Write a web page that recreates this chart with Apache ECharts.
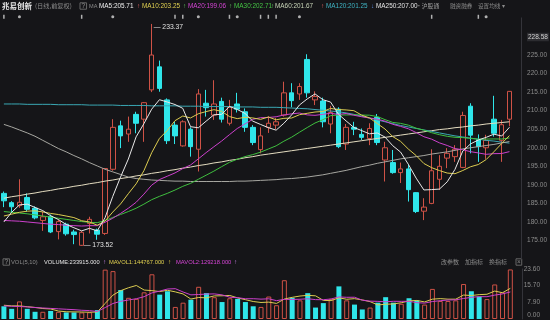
<!DOCTYPE html>
<html><head><meta charset="utf-8">
<script src="https://cdn.jsdelivr.net/npm/echarts@6/dist/echarts.min.js"></script>
<style>html,body{margin:0;padding:0;background:#151518;}#c{width:550px;height:320px;}</style>
</head><body><div id="c"></div>
<script>
// ---- data ----
const openP  = [187.7,185.2,184.4,186.6,183.7,180.4,181.5,177.4,179.4,177.3,173.7,179.6,177.8,176.9,194.2,205.9,203.7,209.0,207.7,215.6,221.8,212.9,206.1,200.5,205.0,199.6,212.0,208.8,212.5,206.6,211.8,209.7,205.5,199.5,205.5,206.1,208.8,214.8,214.5,223.8,212.9,212.6,206.4,210.4,201.0,205.5,203.6,202.5,208.2,196.7,196.0,193.3,194.3,187.9,182.9,185.0,191.5,197.2,197.6,194.7,211.2,202.2,200.0,207.7,202.0,207.7];
const closeP = [185.7,184.1,185.3,183.4,181.1,181.4,177.3,180.1,176.8,176.6,177.2,180.7,176.7,194.4,205.5,203.2,205.0,206.6,212.15,225.0,216.0,201.9,203.2,207.0,200.3,214.5,210.8,211.8,207.7,210.9,210.4,205.5,201.4,203.2,206.6,207.0,214.8,212.7,216.5,214.8,213.8,207.0,209.5,200.3,205.5,205.0,202.8,205.2,201.4,200.0,193.3,194.3,188.7,182.8,184.0,193.8,195.0,198.5,199.6,208.7,203.4,200.3,202.0,203.9,206.2,215.2];
const lowP   = [184.0,182.6,183.8,182.8,180.7,177.6,177.0,175.3,176.3,174.0,173.52,176.9,175.2,176.5,193.8,199.9,201.6,203.9,201.6,215.0,215.1,201.0,201.0,200.3,197.6,193.6,208.4,207.5,206.8,206.0,209.5,204.3,200.7,198.5,204.0,205.0,208.4,210.9,212.9,213.5,211.5,205.5,203.9,199.9,199.4,203.4,202.1,200.7,200.7,190.9,193.0,190.5,185.5,182.4,180.5,184.8,188.6,194.5,196.2,194.5,198.5,196.2,197.0,203.0,196.2,205.8];
const highP  = [188.2,185.6,191.5,187.7,184.2,182.8,182.0,180.6,179.8,177.9,177.6,181.4,178.2,194.4,207.7,207.3,208.4,209.7,212.3,233.37,223.5,213.3,207.0,207.4,205.5,215.8,215.6,218.2,213.5,212.9,214.8,210.6,206.1,205.5,208.5,208.0,217.8,217.4,217.4,225.2,215.2,213.5,211.3,210.9,206.4,207.0,205.2,206.6,209.1,201.6,199.4,196.0,195.5,188.0,186.4,199.6,198.0,199.9,200.7,209.7,212.0,203.6,203.5,214.0,207.5,215.3];
// volume in 10k shares
const volume = [6.0,4.8,8.3,4.8,3.4,3.4,3.8,3.4,3.1,3.1,3.1,3.2,4.2,23.3,22.6,13.7,10.0,9.5,12.6,21.1,11.5,13.1,5.7,7.7,9.1,15.2,12.2,10.3,8.0,9.8,9.5,8.0,6.0,5.7,10.6,6.5,18.3,10.0,8.8,12.2,5.4,7.5,9.5,15.4,8.8,6.8,4.5,5.4,7.7,10.3,7.7,7.2,9.8,8.8,6.8,14.2,8.5,8.5,8.8,16.5,13.1,10.6,9.4,16.3,12.6,23.39];
// moving-average values before a full window exists
const ma5Head  = [180.0,182.6,184.6,184.8];
const ma10Head = [181.6,182.1,182.6,182.9,183.0,182.7,182.3,182.0,181.6];
const ma20Head = [180.4,180.3,180.2,180.0,179.8,179.6,179.4,179.3,179.1,179.0,178.9,179.0,179.0,179.9,181.0,182.3,183.7,185.3,187.5];
const ma30Head = [182.8,182.6,182.4,182.2,181.9,181.6,181.3,181.0,180.7,180.4,180.1,179.9,179.8,180.4,181.2,182.0,182.8,183.7,184.8,186.0,186.9,187.7,188.6,189.6,190.4,191.5,192.6,193.7,194.9];
const mavol1Head = [6.5,6.2,6.2,5.8];
const mavol2Head = [6.2,6.0,5.9,5.7,5.4,5.2,5.0,4.8,4.6];
// long averages
const ma60  = [206.3,205.6,204.8,204.0,203.1,202.0,200.9,199.8,198.9,197.9,197.0,196.0,195.1,194.2,193.5,192.8,192.1,191.7,191.5,191.3,191.2,191.1,191.0,191.0,190.9,190.9,190.9,190.9,190.9,190.9,191.0,191.0,191.1,191.2,191.3,191.4,191.6,191.7,191.9,192.1,192.4,192.7,193.1,193.5,193.9,194.4,194.9,195.3,195.8,196.2,196.6,197.0,197.3,197.6,197.9,198.3,198.6,198.9,199.3,199.7,200.0,200.3,200.6,200.9,201.3,201.67];
const ma120 = [211.8,211.8,211.8,211.7,211.7,211.7,211.7,211.6,211.6,211.6,211.6,211.5,211.5,211.5,211.5,211.4,211.4,211.4,211.4,211.3,211.3,211.3,211.3,211.2,211.2,211.2,211.1,211.1,211.1,211.1,211.0,211.0,211.0,210.9,210.9,210.9,210.8,210.7,210.6,210.5,210.3,210.1,209.9,209.7,209.4,209.0,208.5,208.0,207.5,207.0,206.5,206.0,205.6,205.2,204.8,204.4,204.0,203.6,203.2,202.9,202.6,202.3,202.0,201.8,201.5,201.25];
const ma250 = [186.4,186.8,187.1,187.5,187.8,188.2,188.5,188.9,189.2,189.6,189.9,190.3,190.6,191.0,191.3,191.7,192.0,192.4,192.7,193.1,193.4,193.8,194.1,194.5,194.8,195.2,195.5,195.9,196.2,196.6,196.9,197.3,197.6,198.0,198.3,198.6,198.9,199.2,199.5,199.8,200.1,200.4,200.7,201.0,201.3,201.6,201.9,202.2,202.5,202.8,203.1,203.4,203.7,204.0,204.3,204.6,204.9,205.1,205.4,205.6,205.9,206.1,206.4,206.6,206.8,207.0];
const volTicks = ['0.00','7.90','15.70','23.60'];
const topPriceLabel = '228.58';
const flagIdx  = [0,2,10,14,22,23,25,29,30,33,34,35,38,55,61,62];
const flagType = ['r','c','r','c','r','r','c','r','c','r','r','r','c','r','r','c'];
const headerTexts = ['兆易创新','(日线,前复权)','MA','MA5:205.71','MA10:203.25','MA20:199.06','MA30:202.71','MA60:201.67','MA120:201.25','MA250:207.00','·沪股通','融资融券','设置均线 ▾'];
const volHeaderTexts = ['VOL(5,10)','VOLUME:233915.000','MAVOL1:144767.000','MAVOL2:129218.000','改参数','加指标','换指标'];

// ---- build ----
const RED = '#cf5246', CYAN = '#2fe6ea', BG = '#151518';
const FONT = '"Liberation Sans","Noto Sans CJK SC",sans-serif';
const CJK = '"Noto Sans CJK SC",sans-serif';
const cats = closeP.map((_, i) => String(i + 1)).concat(['']);
const ohlc = closeP.map((c, i) => [openP[i], c, lowP[i], highP[i]]);
function ma(vals, n, head) {
  return vals.map((v, i) => {
    if (i < n - 1) return head[i];
    let s = 0; for (let k = i - n + 1; k <= i; k++) s += vals[k];
    return +(s / n).toFixed(3);
  });
}
const volData = volume.map((v, i) => {
  const up = i === 0 ? closeP[i] >= openP[i] : closeP[i] >= closeP[i - 1];
  return { value: v, itemStyle: up ? { color: 'transparent', borderColor: RED, borderWidth: 1 } : { color: CYAN } };
});
function lineS(name, data, color, xi, yi) {
  return { name, type: 'line', data, xAxisIndex: xi, yAxisIndex: yi, symbol: 'none', smooth: false,
    lineStyle: { width: 1, color }, itemStyle: { color }, z: 3, silent: true };
}
function txt(text, x, y, fill, extra) {
  return Object.assign({ type: 'text', x, y, silent: true,
    style: Object.assign({ text, fill, fontSize: 6.4, fontFamily: FONT, verticalAlign: 'middle' }, extra || {}) });
}
const hy = 6, vy = 262;
const hc = ['#e6e6e6','#8a8a8a','#8a8a8a','#eeeeee','#e0d050','#d444d4','#44c444','#c8d4b8','#3fb4c4','#e6e6e6','#a0a0a0','#8a8a8a','#8a8a8a'];
const hx = [2,35,89,99,142,188,234,275,326,376,416,450,478];
const hs = [{ fontSize: 7.5, fontWeight: 'bold', fontFamily: CJK }, { fontSize: 6.2, fontFamily: CJK }, { fontSize: 5.6 }, {}, {}, {}, {}, {}, {}, {},
  { fontSize: 5.8, fontFamily: CJK }, { fontSize: 5.6, fontFamily: CJK }, { fontSize: 5.6, fontFamily: CJK }];
const graphics = headerTexts.map((t, i) => txt(t, hx[i], hy, hc[i], hs[i]));
graphics.push(txt('?', 80, hy, '#9a9a9a', { borderColor: '#666', borderWidth: 1, padding: [0, 1.5] }));
[[137,'↑','#e06060'],[183,'↑','#60c060'],[229,'↑','#60c060'],[271,'↑','#60c060'],[321,'↑','#e06060'],[371,'↓','#5a8ae0']]
  .forEach(a => graphics.push(txt(a[1], a[0], hy, a[2])));
const vc = ['#8a8a8a','#e6e6e6','#e0d050','#d444d4','#8a8a8a','#8a8a8a','#8a8a8a'];
const vx = [11,44,109,176,441,465,489];
const vs = [{ fontSize: 5.8 }, { fontSize: 5.7 }, { fontSize: 5.8 }, { fontSize: 5.8 },
  { fontSize: 6, fontFamily: CJK }, { fontSize: 6, fontFamily: CJK }, { fontSize: 6, fontFamily: CJK }];
volHeaderTexts.forEach((t, i) => graphics.push(txt(t, vx[i], vy, vc[i], vs[i])));
graphics.push(txt('?', 3, vy, '#9a9a9a', { borderColor: '#666', borderWidth: 1, padding: [0, 1.5] }));
graphics.push(txt('×', 516, vy, '#8a8a8a', { borderColor: '#666', borderWidth: 1, padding: [0, 1] }));
[[103,'#c080e0'],[168,'#e0d050'],[234,'#c080e0']].forEach(a => graphics.push(txt('↑', a[0], vy, a[1])));
graphics.push(txt(topPriceLabel, 527, 37, '#d0d0d0', { fontSize: 6.5, backgroundColor: '#2c2c30', padding: [1, 1] }));

const option = {
  backgroundColor: BG,
  animation: false,
  textStyle: { fontFamily: FONT },
  grid: [
    { left: 0, right: 28, top: 17.9, height: 241.15 },
    { left: 0, right: 28, top: 269, height: 50 }
  ],
  xAxis: [
    { type: 'category', data: cats, gridIndex: 0, boundaryGap: true, show: false },
    { type: 'category', data: cats, gridIndex: 1, boundaryGap: true, show: false }
  ],
  yAxis: [
    { type: 'value', gridIndex: 0, position: 'right', min: 170, max: 235, interval: 5, scale: true,
      axisLine: { show: true, lineStyle: { color: '#34343a' } }, axisTick: { show: false }, splitLine: { show: false },
      axisLabel: { color: '#8c8c8c', fontSize: 6.5, margin: 6, fontFamily: FONT,
        formatter: v => (v >= 175 && v <= 225) ? v.toFixed(2) : '' } },
    { type: 'value', gridIndex: 1, position: 'right', min: 0, max: 23.6, interval: 23.6 / 3,
      axisLine: { show: true, lineStyle: { color: '#34343a' } }, axisTick: { show: false }, splitLine: { show: false },
      axisLabel: { color: '#8c8c8c', fontSize: 6.5, margin: 18, align: 'right', fontFamily: FONT,
        formatter: v => { const k = Math.round(v / (23.6 / 3)); return k === 0 ? '{z|' + volTicks[0] + '}' : volTicks[k]; },
        rich: { z: { fontSize: 6.5, color: '#8c8c8c', padding: [0, 0, 7, 0] } } } }
  ],
  series: [
    { name: 'K', type: 'candlestick', data: ohlc, xAxisIndex: 0, yAxisIndex: 0, barWidth: 5, z: 2,
      itemStyle: { color: BG, color0: CYAN, borderColor: RED, borderColor0: CYAN, borderWidth: 1 },
      markPoint: { symbol: 'circle', symbolSize: 0, silent: true,
        label: { show: true, position: 'right', distance: 2, color: '#e0e0e0', fontSize: 6.8, fontFamily: FONT,
          formatter: p => '— ' + p.value.toFixed(2) },
        data: [ { type: 'max', valueDim: 'highest', label: { offset: [0, 3] } },
                { type: 'min', valueDim: 'lowest', label: { offset: [0, -1] } } ] } },
    lineS('MA250', ma250, '#e4dcc0', 0, 0),
    lineS('MA120', ma120, '#3aa8b4', 0, 0),
    lineS('MA60', ma60, '#a6a6a0', 0, 0),
    lineS('MA30', ma(closeP, 30, ma30Head), '#3fbf3f', 0, 0),
    lineS('MA20', ma(closeP, 20, ma20Head), '#cc40cc', 0, 0),
    lineS('MA10', ma(closeP, 10, ma10Head), '#dccc50', 0, 0),
    lineS('MA5', ma(closeP, 5, ma5Head), '#e8e8e8', 0, 0),
    { name: 'flags', type: 'scatter', xAxisIndex: 0, yAxisIndex: 0, clip: false, silent: true, z: 4,
      itemStyle: { color: '#d8d8d8' },
      data: flagIdx.map((ix, k) => ({ value: [ix, 235.3],
        symbol: flagType[k] === 'r' ? 'rect' : 'circle',
        symbolSize: flagType[k] === 'r' ? [1.5, 4] : 3 })) },
    { name: 'VOL', type: 'bar', data: volData, xAxisIndex: 1, yAxisIndex: 1, barWidth: 5, z: 2 },
    lineS('MAVOL1', ma(volume, 5, mavol1Head), '#dccc50', 1, 1),
    lineS('MAVOL2', ma(volume, 10, mavol2Head), '#cc40cc', 1, 1)
  ],
  graphic: { elements: graphics }
};
const chart = echarts.init(document.getElementById('c'));
chart.setOption(option);
</script>
</body></html>
